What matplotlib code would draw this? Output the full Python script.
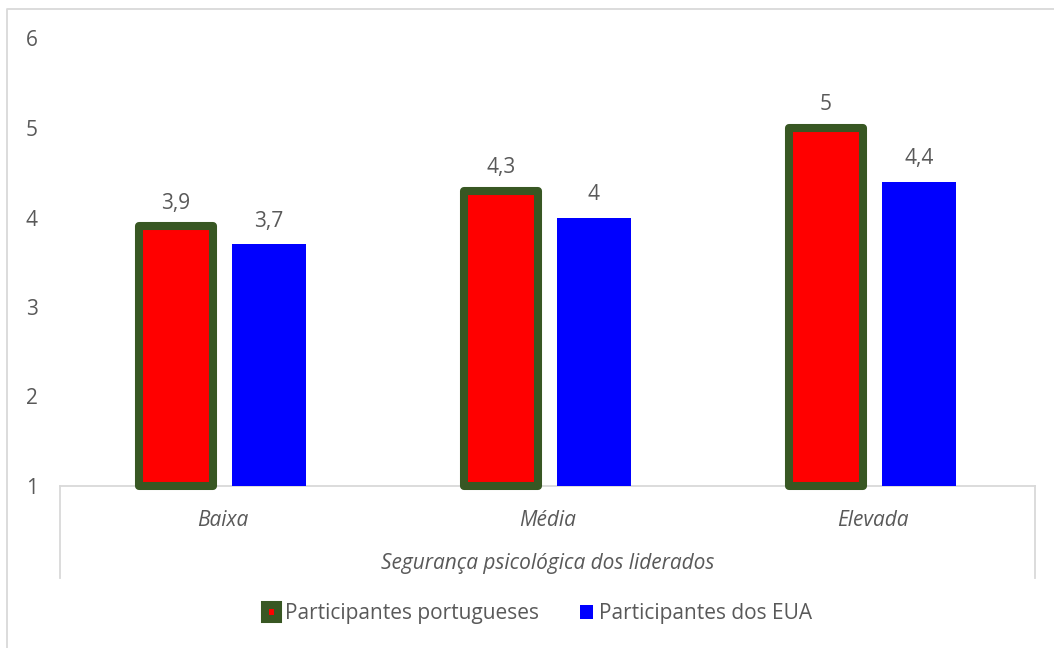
import matplotlib.pyplot as plt
from matplotlib.patches import Patch
from matplotlib.lines import Line2D

plt.rcParams['font.family'] = ['Open Sans', 'DejaVu Sans']

categorias = ['Baixa', 'Média', 'Elevada']
portugueses = [3.9, 4.3, 5.0]
eua = [3.7, 4.0, 4.4]
nomes = ['Participantes portugueses', 'Participantes dos EUA']
titulo_x = 'Segurança psicológica dos liderados'

W, H = 1054, 648
fig = plt.figure(figsize=(W / 100, H / 100), dpi=100)
ax = fig.add_axes([60 / W, 1 - 486 / H, 975 / W, (486 - 38.5) / H])

cinza = '#595959'
borda = '#D9D9D9'
verde = '#385723'
fs = 15

x = range(len(categorias))
larg = 0.225
desl = 0.143
lw = 5.8

b1 = ax.bar([i - desl for i in x], [v - 1 for v in portugueses], larg, bottom=1,
            color='#FF0000', edgecolor=verde, linewidth=lw, joinstyle='round',
            clip_on=False, zorder=3)
b2 = ax.bar([i + desl for i in x], [v - 1 for v in eua], larg, bottom=1,
            color='#0000FF', linewidth=0, clip_on=False, zorder=3)

def fmt(v):
    return ('%g' % v).replace('.', ',')

ax.bar_label(b1, labels=[fmt(v) for v in portugueses], padding=9,
             fontsize=fs, color=cinza)
ax.bar_label(b2, labels=[fmt(v) for v in eua], padding=9,
             fontsize=fs, color=cinza)

ax.set_xlim(-0.5, 2.5)
ax.set_ylim(1, 6)
ax.set_yticks([1, 2, 3, 4, 5, 6])
ax.set_xticks(list(x))
ax.set_xticklabels(categorias, fontstyle='italic', fontsize=fs, color=cinza)
ax.tick_params(axis='y', length=0, pad=16, labelsize=fs, labelcolor=cinza)
ax.tick_params(axis='x', length=0, pad=17)
for s in ['top', 'right', 'left']:
    ax.spines[s].set_visible(False)
ax.spines['bottom'].set_color(borda)
ax.spines['bottom'].set_linewidth(1.3)
ax.set_xlabel(titulo_x, fontstyle='italic', fontsize=fs, color=cinza, labelpad=16)

# linhas verticais da tabela de categorias
for px in (60, 1035):
    fig.add_artist(Line2D([px / W, px / W], [1 - 486 / H, 1 - 578 / H],
                          color=borda, linewidth=1.3))
# moldura externa
fig.add_artist(Line2D([7 / W, 7 / W, 1], [0, 1 - 9 / H, 1 - 9 / H],
                      color=borda, linewidth=1.3))

handles = [Patch(facecolor='#FF0000', edgecolor=verde, linewidth=lw, joinstyle='round'),
           Patch(facecolor='#0000FF', edgecolor='none')]
fig.legend(handles, nomes, loc='center', bbox_to_anchor=(539 / W, 1 - 614 / H),
           ncol=2, frameon=False, fontsize=fs, labelcolor=cinza,
           handlelength=0.62, handleheight=0.62, handletextpad=0.3, columnspacing=2.0)

fig.savefig('out.png', dpi=100)
